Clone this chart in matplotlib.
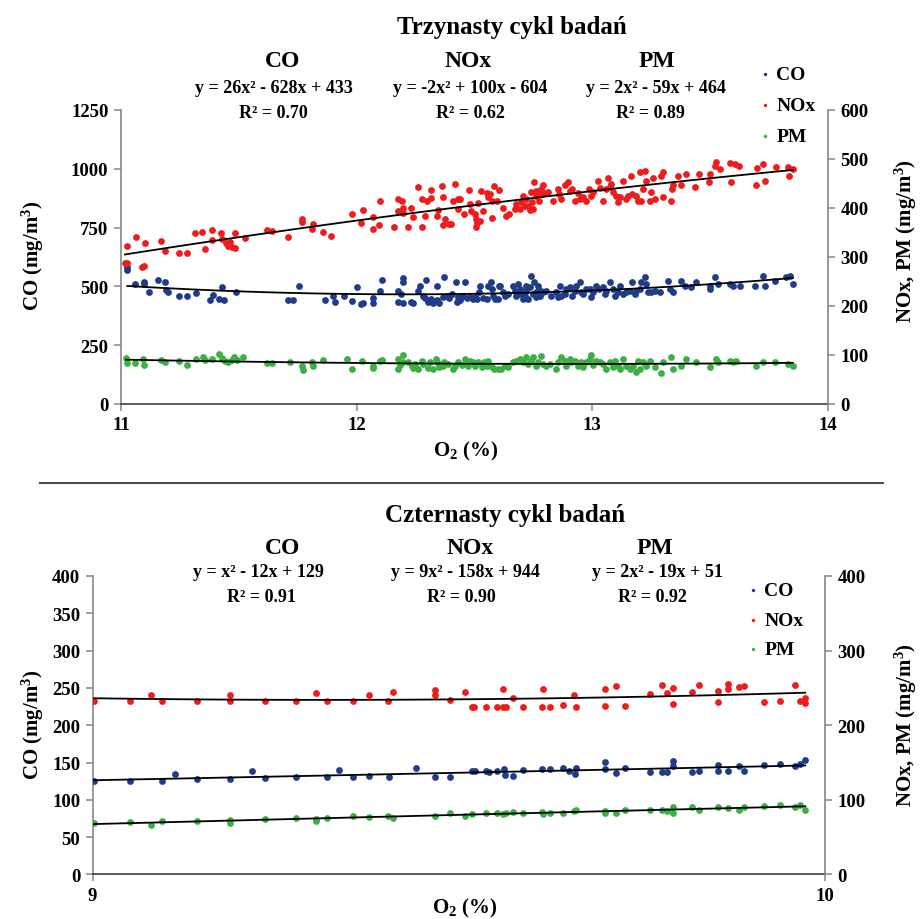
import numpy as np
import matplotlib.pyplot as plt
from matplotlib.lines import Line2D

plt.rcParams['font.family'] = ['Liberation Serif', 'DejaVu Serif']
plt.rcParams['font.weight'] = 'bold'
plt.rcParams['mathtext.fontset'] = 'custom'
plt.rcParams['mathtext.rm'] = 'Liberation Serif:bold'
plt.rcParams['mathtext.it'] = 'Liberation Serif:bold'
plt.rcParams['mathtext.bf'] = 'Liberation Serif:bold'

# ---- trzynasty cykl (O2 11-14 %) ----
co13_x = [11.027, 11.027, 11.059, 11.099, 11.099, 11.120, 11.158, 11.187, 11.191, 11.201, 11.248, 11.279,
          11.318, 11.378, 11.389, 11.417, 11.430, 11.437, 11.487, 11.710, 11.731, 11.757, 11.866, 11.898,
          11.908, 11.946, 11.979, 12.000, 12.018, 12.028, 12.068, 12.068, 12.099, 12.106, 12.177, 12.177,
          12.188, 12.198, 12.195, 12.198, 12.231, 12.238, 12.259, 12.269, 12.283, 12.290, 12.294, 12.304,
          12.315, 12.325, 12.339, 12.339, 12.351, 12.368, 12.372, 12.382, 12.393, 12.403, 12.421, 12.424,
          12.429, 12.438, 12.453, 12.460, 12.470, 12.481, 12.492, 12.502, 12.509, 12.521, 12.523, 12.535,
          12.552, 12.559, 12.570, 12.576, 12.580, 12.587, 12.598, 12.605,
          12.607, 12.621, 12.628, 12.642, 12.663, 12.670, 12.678, 12.685, 12.692, 12.699, 12.706, 12.713,
          12.717, 12.720, 12.727, 12.734, 12.741, 12.748, 12.751, 12.760, 12.762, 12.769, 12.777, 12.784,
          12.791, 12.805, 12.826, 12.847, 12.854, 12.861, 12.868, 12.883, 12.890, 12.904, 12.915, 12.925,
          12.932, 12.946, 12.953, 12.960, 12.975, 12.989, 12.996, 13.003, 13.017, 13.028, 13.045, 13.052,
          13.059, 13.074, 13.088, 13.095, 13.109, 13.116, 13.130, 13.144, 13.158, 13.170, 13.180, 13.187,
          13.201, 13.208, 13.222, 13.229, 13.236, 13.250, 13.264, 13.286, 13.321, 13.328, 13.342, 13.378,
          13.392, 13.420, 13.441, 13.498, 13.501, 13.519, 13.533, 13.583, 13.597, 13.625, 13.689, 13.724,
          13.731, 13.774, 13.823, 13.837, 13.851]
co13_y = [571, 581, 508, 518, 508, 475, 525, 520, 486, 475, 458, 461,
          472, 444, 465, 447, 496, 440, 475, 441, 444, 501, 444, 457,
          432, 458, 437, 496, 425, 430, 450, 430, 479, 525, 482, 432,
          468, 518, 535, 430, 435, 430, 482, 503, 461, 450, 525, 435,
          447, 430, 444, 503, 430, 454, 539, 461, 450, 468, 518, 432,
          454, 444, 461, 520, 450, 454, 447, 454, 447, 478, 503, 450,
          447, 503, 518, 489, 461, 447, 447, 503,
          503, 475, 461, 468, 503, 482, 461, 510, 489, 468, 446, 461,
          482, 503, 446, 496, 546, 468, 517, 475, 453, 503, 461, 482,
          475, 482, 461, 475, 453, 503, 461, 468, 489, 496, 461, 482,
          503, 517, 475, 468, 489, 489, 453, 475, 503, 489, 496, 468,
          482, 517, 489, 461, 475, 503, 468, 475, 482, 517, 468, 482,
          489, 517, 538, 510, 475, 475, 482, 475, 524, 489, 475, 524,
          503, 496, 517, 489, 503, 538, 510, 510, 503, 503, 503, 543,
          503, 524, 538, 543, 510]

nox13_x = [11.024, 11.027, 11.017, 11.064, 11.088, 11.099, 11.103, 11.170, 11.187, 11.248, 11.279, 11.314,
           11.345, 11.356, 11.385, 11.385, 11.424, 11.430, 11.446, 11.453, 11.463, 11.470, 11.484, 11.484,
           11.526, 11.618, 11.639, 11.710, 11.768, 11.768, 11.813, 11.809, 11.856, 11.891, 11.979, 12.018,
           12.025, 12.068, 12.071, 12.096, 12.099, 12.160, 12.177, 12.191, 12.177, 12.195, 12.198, 12.219,
           12.231, 12.238, 12.259, 12.276, 12.276, 12.297, 12.290, 12.315, 12.315, 12.339, 12.347, 12.361,
           12.368, 12.368, 12.375, 12.393, 12.400, 12.410, 12.417, 12.429, 12.429, 12.438, 12.457, 12.477,
           12.481, 12.485, 12.502, 12.505, 12.506, 12.509, 12.516, 12.523, 12.526, 12.537, 12.552, 12.559,
           12.566, 12.573, 12.576, 12.584, 12.594, 12.605,
           12.621, 12.632, 12.646, 12.670, 12.675, 12.692, 12.699, 12.706, 12.713, 12.720, 12.727, 12.734,
           12.741, 12.745, 12.748, 12.752, 12.760, 12.762, 12.769, 12.774, 12.777, 12.784, 12.788, 12.791,
           12.798, 12.812, 12.833, 12.854, 12.859, 12.866, 12.883, 12.897, 12.904, 12.915, 12.925, 12.939,
           12.946, 12.960, 12.972, 12.986, 12.996, 13.003, 13.024, 13.031, 13.045, 13.059, 13.066, 13.074,
           13.081, 13.088, 13.099, 13.109, 13.116, 13.130, 13.141, 13.151, 13.165, 13.170, 13.187, 13.194,
           13.201, 13.208, 13.215, 13.222, 13.229, 13.243, 13.250, 13.257, 13.264, 13.293, 13.300, 13.300,
           13.335, 13.339, 13.342, 13.364, 13.378, 13.399, 13.434, 13.453, 13.495, 13.498, 13.519, 13.526,
           13.540, 13.583, 13.587, 13.604, 13.622, 13.693, 13.699, 13.724, 13.734, 13.781, 13.830, 13.835,
           13.852]
nox13_y = [323, 288, 288, 341, 280, 282, 328, 332, 313, 309, 309, 349,
           350, 316, 355, 335, 348, 337, 328, 322, 331, 320, 318, 348,
           339, 356, 353, 341, 378, 371, 367, 357, 351, 343, 388, 369,
           395, 382, 357, 365, 414, 362, 418, 415, 393, 400, 390, 361,
           400, 381, 442, 418, 361, 415, 384, 437, 420, 384, 395, 444,
           422, 365, 378, 367, 367, 415, 448, 397, 418, 418, 388, 437,
           408, 393, 388, 361, 378, 369, 410, 374, 434, 393, 431, 422,
           429, 415, 380, 444, 415, 437,
           399, 384, 388, 398, 408, 398, 412, 425, 405, 418, 403, 395,
           432, 412, 398, 452, 435, 425, 433, 415, 429, 439, 429, 446,
           430, 432, 415, 439, 429, 418, 446, 452, 435, 439, 415, 430,
           418, 422, 415, 439, 425, 432, 454, 440, 415, 439, 461, 442,
           449, 432, 425, 412, 422, 454, 418, 425, 466, 429, 425, 415,
           473, 415, 439, 476, 454, 415, 432, 461, 418, 466, 473, 422,
           415, 439, 446, 466, 446, 469, 442, 469, 452, 469, 486, 493,
           480, 492, 452, 490, 486, 446, 481, 490, 454, 483, 483, 466,
           480]

pm13_x = [11.021, 11.027, 11.059, 11.095, 11.099, 11.170, 11.187, 11.248, 11.279, 11.318, 11.349, 11.356,
          11.385, 11.417, 11.430, 11.441, 11.453, 11.470, 11.481, 11.491, 11.519, 11.618, 11.639, 11.717,
          11.768, 11.774, 11.809, 11.816, 11.856, 11.958, 11.979, 12.021, 12.068, 12.071, 12.099, 12.106,
          12.177, 12.177, 12.184, 12.195, 12.198, 12.219, 12.233, 12.238, 12.248, 12.259, 12.276, 12.283,
          12.301, 12.311, 12.325, 12.337, 12.347, 12.351, 12.368, 12.372, 12.389, 12.407, 12.417, 12.429,
          12.446, 12.460, 12.471, 12.481, 12.492, 12.502, 12.516, 12.530, 12.542, 12.552, 12.559, 12.573,
          12.584, 12.601,
          12.614, 12.628, 12.642, 12.663, 12.678, 12.692, 12.706, 12.720, 12.727, 12.741, 12.748, 12.762,
          12.769, 12.784, 12.791, 12.805, 12.819, 12.847, 12.854, 12.868, 12.883, 12.890, 12.904, 12.911,
          12.925, 12.939, 12.953, 12.960, 12.975, 12.989, 12.996, 13.003, 13.017, 13.031, 13.045, 13.059,
          13.074, 13.088, 13.095, 13.109, 13.116, 13.130, 13.144, 13.158, 13.173, 13.187, 13.194, 13.201,
          13.215, 13.229, 13.243, 13.264, 13.293, 13.300, 13.335, 13.342, 13.378, 13.399, 13.441, 13.498,
          13.526, 13.533, 13.583, 13.597, 13.611, 13.696, 13.724, 13.774, 13.830, 13.851]
pm13_y = [93, 84, 84, 92, 80, 90, 86, 88, 80, 92, 95, 90,
          92, 103, 94, 88, 86, 90, 95, 90, 95, 84, 84, 85,
          78, 70, 85, 78, 90, 92, 71, 87, 73, 78, 88, 90,
          92, 71, 80, 99, 86, 85, 78, 73, 82, 71, 88, 82,
          73, 86, 71, 92, 84, 75, 77, 86, 82, 71, 78, 86,
          80, 92, 78, 87, 85, 78, 85, 75, 85, 78, 88, 75,
          71, 71,
          71, 78, 75, 85, 88, 92, 85, 95, 82, 88, 95, 78,
          86, 97, 82, 78, 82, 71, 85, 95, 88, 78, 92, 85,
          88, 78, 85, 75, 85, 92, 99, 80, 88, 85, 82, 71,
          86, 75, 88, 78, 71, 92, 78, 71, 78, 65, 88, 71,
          85, 78, 88, 75, 63, 86, 95, 71, 78, 92, 85, 75,
          92, 85, 88, 85, 88, 78, 85, 86, 82, 78]

# ---- czternasty cykl (O2 9-10 %) ----
co14_x = [9.002, 9.051, 9.094, 9.112, 9.143, 9.187, 9.218, 9.235, 9.277, 9.320, 9.336, 9.355,
          9.378, 9.405, 9.442, 9.468, 9.488, 9.518, 9.522, 9.537, 9.541, 9.552,
          9.561, 9.563, 9.574, 9.587, 9.613, 9.625, 9.642, 9.650, 9.659, 9.660, 9.700, 9.700,
          9.715, 9.727, 9.761, 9.778, 9.784, 9.792, 9.792, 9.819, 9.828, 9.854, 9.854, 9.868,
          9.883, 9.890, 9.917, 9.938, 9.959, 9.966, 9.973]
co14_y = [125, 125, 125, 134, 128, 128, 139, 129, 130, 130, 140, 131,
          132, 131, 142, 131, 131, 139, 139, 139, 137, 139,
          141, 133, 132, 140, 141, 141, 143, 139, 134, 142, 151, 141,
          136, 143, 137, 137, 137, 152, 146, 137, 138, 147, 138, 138,
          145, 138, 147, 148, 145, 148, 154]

nox14_x = [9.002, 9.051, 9.079, 9.094, 9.143, 9.187, 9.187, 9.235, 9.277, 9.305, 9.320, 9.355,
           9.378, 9.403, 9.410, 9.468, 9.468, 9.488, 9.508, 9.518, 9.521, 9.537, 9.552,
           9.560, 9.560, 9.565, 9.574, 9.587, 9.613, 9.615, 9.625, 9.642, 9.657, 9.660, 9.700,
           9.700, 9.715, 9.727, 9.761, 9.778, 9.784, 9.792, 9.792, 9.819, 9.828, 9.854, 9.854,
           9.868, 9.868, 9.883, 9.890, 9.917, 9.938, 9.959, 9.966, 9.973, 9.973]
nox14_y = [233, 233, 240, 233, 233, 240, 233, 233, 233, 243, 233, 233,
           240, 232, 244, 247, 240, 234, 245, 224, 225, 224, 224,
           248, 224, 224, 236, 225, 225, 248, 225, 227, 240, 225, 249,
           226, 252, 226, 242, 254, 243, 250, 228, 245, 254, 246, 231,
           255, 248, 251, 252, 231, 232, 254, 233, 236, 230]

pm14_x = [9.002, 9.051, 9.079, 9.094, 9.143, 9.187, 9.187, 9.235, 9.277, 9.305, 9.305, 9.320,
          9.355, 9.378, 9.403, 9.410, 9.468, 9.488, 9.508, 9.518, 9.537, 9.552,
          9.560, 9.565, 9.574, 9.587, 9.613, 9.615, 9.625, 9.642, 9.657, 9.660, 9.700, 9.700,
          9.715, 9.727, 9.761, 9.778, 9.784, 9.792, 9.792, 9.819, 9.828, 9.854, 9.868, 9.883,
          9.890, 9.917, 9.938, 9.959, 9.966, 9.973]
pm14_y = [69, 70, 66, 72, 72, 73, 69, 74, 75, 74, 71, 76,
          78, 77, 79, 75, 78, 82, 78, 81, 82, 82,
          81, 82, 84, 83, 84, 81, 82, 83, 85, 86, 85, 82,
          83, 86, 87, 86, 85, 90, 83, 90, 87, 90, 89, 87,
          90, 92, 93, 91, 93, 86]

eq13 = [("CO", "y = 26x² - 628x + 433", "R² = 0.70"),
        ("NOx", "y = -2x² + 100x - 604", "R² = 0.62"),
        ("PM", "y = 2x² - 59x + 464", "R² = 0.89")]
eq14 = [("CO", "y = x² - 12x + 129", "R² = 0.91"),
        ("NOx", "y = 9x² - 158x + 944", "R² = 0.90"),
        ("PM", "y = 2x² - 19x + 51", "R² = 0.92")]

c_co, c_nox, c_pm = '#1f3c88', '#ee1c1c', '#3cb043'
spine_c = '#868686'


def trend(ax, x, y):
    p = np.polyfit(x, y, 2)
    xx = np.linspace(min(x), max(x), 100)
    ax.plot(xx, np.polyval(p, xx), color='black', lw=1.3, zorder=5)


def panel(rect, co, nox, pm, xlim, xticks, ylim1, yt1, ylim2, yt2):
    ax = fig.add_axes(rect)
    ax2 = ax.twinx()
    s1 = ax.scatter(co[0], co[1], s=24, color=c_co, label='CO', zorder=3, linewidths=0)
    s2 = ax2.scatter(nox[0], nox[1], s=24, color=c_nox, label='NOx', zorder=3, linewidths=0)
    s3 = ax2.scatter(pm[0], pm[1], s=24, color=c_pm, label='PM', zorder=3, linewidths=0)
    trend(ax, co[0], co[1])
    trend(ax2, nox[0], nox[1])
    trend(ax2, pm[0], pm[1])
    ax.set_xlim(*xlim)
    ax.set_xticks(xticks)
    ax.set_ylim(*ylim1)
    ax.set_yticks(yt1)
    ax2.set_ylim(*ylim2)
    ax2.set_yticks(yt2)
    for a in (ax, ax2):
        a.spines['top'].set_visible(False)
        for sp in a.spines.values():
            sp.set_color(spine_c)
            sp.set_linewidth(1.2)
        a.tick_params(labelsize=13.5, length=5, width=1.1, color=spine_c, pad=4)
    ax.spines['bottom'].set_color('#404040')
    ax.spines['right'].set_visible(False)
    ax2.spines['left'].set_visible(False)
    ax2.spines['bottom'].set_visible(False)
    return ax, ax2, [s1, s2, s3]


fig = plt.figure(figsize=(9.22, 9.2), dpi=100)

# gorny wykres
ax, ax2, h = panel([0.1312, 0.5598, 0.7668, 0.3196], (co13_x, co13_y), (nox13_x, nox13_y),
                   (pm13_x, pm13_y), (11, 14), [11, 12, 13, 14],
                   (0, 1250), range(0, 1251, 250), (0, 600), range(0, 601, 100))
fig.legend(h, ['CO', 'NOx', 'PM'], loc='upper left', bbox_to_anchor=(0.824, 0.928),
           frameon=False, fontsize=14, handlelength=0.5, handletextpad=0.35,
           labelspacing=0.7, borderpad=0, borderaxespad=0, markerscale=0.5)

# dolny wykres
bx, bx2, h = panel([0.1005, 0.0484, 0.7943, 0.3245], (co14_x, co14_y), (nox14_x, nox14_y),
                   (pm14_x, pm14_y), (9, 10), [9, 10],
                   (0, 400), range(0, 401, 50), (0, 400), range(0, 401, 100))
fig.legend(h, ['CO', 'NOx', 'PM'], loc='upper left', bbox_to_anchor=(0.811, 0.367),
           frameon=False, fontsize=14, handlelength=0.5, handletextpad=0.35,
           labelspacing=0.62, borderpad=0, borderaxespad=0, markerscale=0.5)

# tytuly i opisy
fig.text(0.555, 0.970, 'Trzynasty cykl badań', ha='center', va='center', fontsize=18)
fig.text(0.548, 0.440, 'Czternasty cykl badań', ha='center', va='center', fontsize=18)

pos13 = [(0.307, 0.297, 0.297), (0.508, 0.510, 0.510), (0.713, 0.711, 0.705)]
pos14 = [(0.307, 0.280, 0.284), (0.510, 0.505, 0.500), (0.710, 0.713, 0.708)]
for (name, eq, r2), (x1, x2, x3) in zip(eq13, pos13):
    fig.text(x1, 0.933, name, ha='center', va='center', fontsize=17)
    fig.text(x2, 0.904, eq, ha='center', va='center', fontsize=13)
    fig.text(x3, 0.877, r2, ha='center', va='center', fontsize=13)
for (name, eq, r2), (x1, x2, x3) in zip(eq14, pos14):
    fig.text(x1, 0.404, name, ha='center', va='center', fontsize=17)
    fig.text(x2, 0.378, eq, ha='center', va='center', fontsize=13)
    fig.text(x3, 0.350, r2, ha='center', va='center', fontsize=13)

ylab_l = 'CO (mg/m$^\\mathrm{3}$)'
ylab_r = 'NOx, PM (mg/m$^\\mathrm{3}$)'
xlab = 'O$_\\mathrm{2}$ (%)'
fig.text(0.036, 0.722, ylab_l, rotation=90, ha='center', va='center', fontsize=15)
fig.text(0.982, 0.738, ylab_r, rotation=90, ha='center', va='center', fontsize=15)
fig.text(0.505, 0.509, xlab, ha='center', va='center', fontsize=15)
fig.text(0.036, 0.212, ylab_l, rotation=90, ha='center', va='center', fontsize=15)
fig.text(0.982, 0.212, ylab_r, rotation=90, ha='center', va='center', fontsize=15)
fig.text(0.504, 0.013, xlab, ha='center', va='center', fontsize=15)

# linia rozdzielajaca
fig.add_artist(Line2D([40 / 922, 883 / 922], [1 - 484 / 920, 1 - 484 / 920],
                      color='#505050', lw=1.5))

fig.savefig('out.png', dpi=100)
